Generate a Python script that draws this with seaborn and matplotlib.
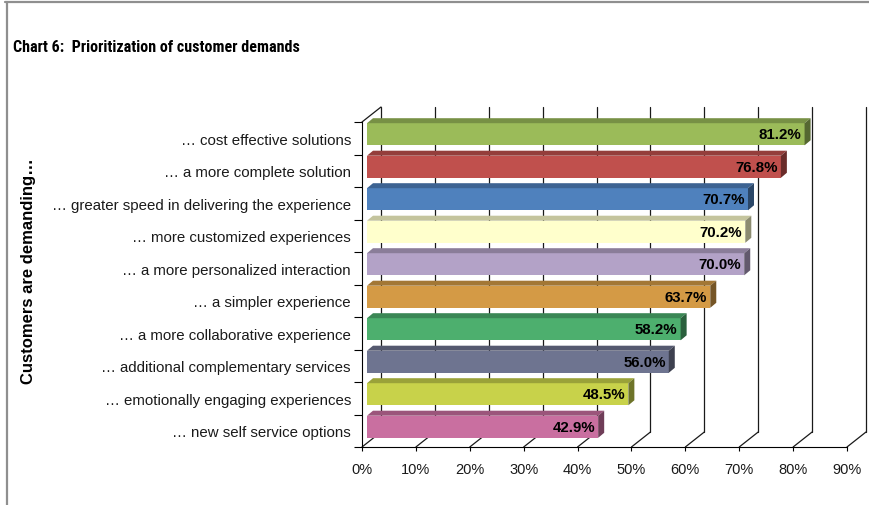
import numpy as np
import pandas as pd
import matplotlib
matplotlib.use("Agg")
import matplotlib.pyplot as plt
import seaborn as sns
from matplotlib.transforms import offset_copy
from matplotlib.patches import Polygon
from matplotlib.lines import Line2D
from matplotlib import font_manager
from matplotlib import colors as mcolors

# ---- data -------------------------------------------------------------
categories = [
    "\u2026 cost effective solutions",
    "\u2026 a more complete solution",
    "\u2026 greater speed in delivering the experience",
    "\u2026 more customized experiences",
    "\u2026 a more personalized interaction",
    "\u2026 a simpler experience",
    "\u2026 a more collaborative experience",
    "\u2026 additional complementary services",
    "\u2026 emotionally engaging experiences",
    "\u2026 new self service options",
]
values = [81.2, 76.8, 70.7, 70.2, 70.0, 63.7, 58.2, 56.0, 48.5, 42.9]
bar_colors = ["#9BBB59", "#C0504D", "#4F81BD", "#FFFFCC", "#B3A2C7",
              "#D49A45", "#4DAF6E", "#6E7490", "#C8D24A", "#C96FA0"]
x_ticks = [0, 10, 20, 30, 40, 50, 60, 70, 80, 90]
x_tick_labels = ["0%", "10%", "20%", "30%", "40%", "50%", "60%", "70%", "80%", "90%"]
title = "Chart 6:  Prioritization of customer demands"
y_title = "Customers are demanding\u2026"

# ---- style ------------------------------------------------------------
sns.set_theme(style="white")
plt.rcParams["font.family"] = ["Liberation Sans", "DejaVu Sans"]
plt.rcParams["text.color"] = "black"
plt.rcParams["axes.labelcolor"] = "black"


def find_family(names):
    for name in names:
        try:
            font_manager.findfont(font_manager.FontProperties(family=name, weight="bold"),
                                  fallback_to_default=False)
            return name
        except Exception:
            continue
    return None


narrow = find_family(["Liberation Sans Narrow", "Arial Narrow", "Roboto Condensed",
                      "DejaVu Sans Condensed", "Open Sans Condensed", "Nimbus Sans Narrow"])

W, H = 870, 506
fig = plt.figure(figsize=(W / 100, H / 100), dpi=100)
fig.patch.set_facecolor("white")

# front plane of the pseudo-3D chart, in pixels
L, R, T, B = 362, 847, 123, 448
ax = fig.add_axes([L / W, 1 - B / H, (R - L) / W, (B - T) / H])
ax.set_facecolor("none")

df = pd.DataFrame({"demand": categories, "share": values})
sns.barplot(data=df, x="share", y="demand", hue="demand", palette=bar_colors,
            legend=False, orient="h", width=0.68, saturation=1, linewidth=0, ax=ax)
ax.set_xlim(0, 90)
ax.set_ylim(9.5, -0.5)

# pixel -> data unit factors
ux = 90 / (R - L)
uy = 10 / (B - T)

# wall depth and bar depth (pixels)
WALL_DX, WALL_DY = 19, 15
BAR_SHIFT_X, BAR_SHIFT_Y = 5, 4
BAR_DX, BAR_DY = 6, 5


def shade(c, f):
    r, g, b = mcolors.to_rgb(c)
    return (r * f, g * f, b * f)


# back wall gridlines and floor diagonals
line_kw = dict(color="#1a1a1a", lw=0.9, zorder=0.5, clip_on=False)
for t in x_ticks:
    xb = t + WALL_DX * ux
    ax.add_line(Line2D([xb, xb], [9.5 - WALL_DY * uy, -0.5 - WALL_DY * uy], **line_kw))
    ax.add_line(Line2D([t, xb], [9.5, 9.5 - WALL_DY * uy], **line_kw))
ax.add_line(Line2D([0, WALL_DX * ux], [-0.5, -0.5 - WALL_DY * uy], **line_kw))

# bars: shift front faces into the depth and add top/side faces
bar_tr = offset_copy(ax.transData, fig=fig, x=BAR_SHIFT_X, y=BAR_SHIFT_Y, units="dots")
label_tr = offset_copy(ax.transData, fig=fig, x=2, y=BAR_SHIFT_Y, units="dots")
bars = sorted(ax.patches, key=lambda p: p.get_y())
for p, v, c in zip(bars, values, bar_colors):
    p.set_transform(bar_tr)
    p.set_zorder(3)
    y0 = p.get_y()
    h = p.get_height()
    w = p.get_width()
    dx, dy = BAR_DX * ux, BAR_DY * uy
    top = Polygon([(0, y0), (w, y0), (w + dx, y0 - dy), (dx, y0 - dy)],
                  closed=True, facecolor=shade(c, 0.77), edgecolor="none",
                  transform=bar_tr, zorder=3, clip_on=False)
    side = Polygon([(w, y0), (w, y0 + h), (w + dx, y0 + h - dy), (w + dx, y0 - dy)],
                   closed=True, facecolor=shade(c, 0.55), edgecolor="none",
                   transform=bar_tr, zorder=3, clip_on=False)
    ax.add_patch(top)
    ax.add_patch(side)
    ax.text(w, y0 + h / 2, f"{v:.1f}%", transform=label_tr,
            ha="right", va="center", fontsize=10.8, fontweight="bold",
            color="black", zorder=5, clip_on=False)

# axes, ticks and labels
for s in ["top", "right"]:
    ax.spines[s].set_visible(False)
for s in ["left", "bottom"]:
    ax.spines[s].set_color("black")
    ax.spines[s].set_linewidth(0.8)
    ax.spines[s].set_zorder(4)

ax.set_xticks(x_ticks)
ax.set_xticklabels(x_tick_labels)
ax.tick_params(axis="x", bottom=True, length=3, width=0.8, color="black",
               direction="out", pad=8, labelsize=10.5, labelcolor="#1a1a1a")
ax.tick_params(axis="y", which="major", left=True, length=0, pad=8,
               labelsize=10.8, labelcolor="#1a1a1a")
ax.set_yticks(np.arange(-0.5, 10, 1), minor=True)
ax.tick_params(axis="y", which="minor", left=True, length=6, width=0.8,
               color="black", direction="out")
ax.set_xlabel("")
ax.set_ylabel("")
ax.grid(False)

# titles
if narrow:
    fig.text(13 / W, 1 - 52 / H, title, ha="left", va="baseline", fontsize=11.6,
             fontweight="bold", color="black", family=[narrow, "Liberation Sans"])
else:
    fig.text(13 / W, 1 - 52 / H, title, ha="left", va="baseline", fontsize=11.5,
             fontweight="bold", color="black")
fig.text(29 / W, 1 - 271 / H, y_title, rotation=90, ha="center", va="center",
         fontsize=12, fontweight="bold", color="black")

# outer frame
fig.add_artist(Line2D([5 / W, 1], [1 - 3 / H, 1 - 3 / H], color="#8f8f8f", lw=1.6))
fig.add_artist(Line2D([7.5 / W, 7.5 / W], [1 - 3 / H, 0], color="#8f8f8f", lw=1.6))

fig.savefig("out.png", dpi=100, facecolor="white")
